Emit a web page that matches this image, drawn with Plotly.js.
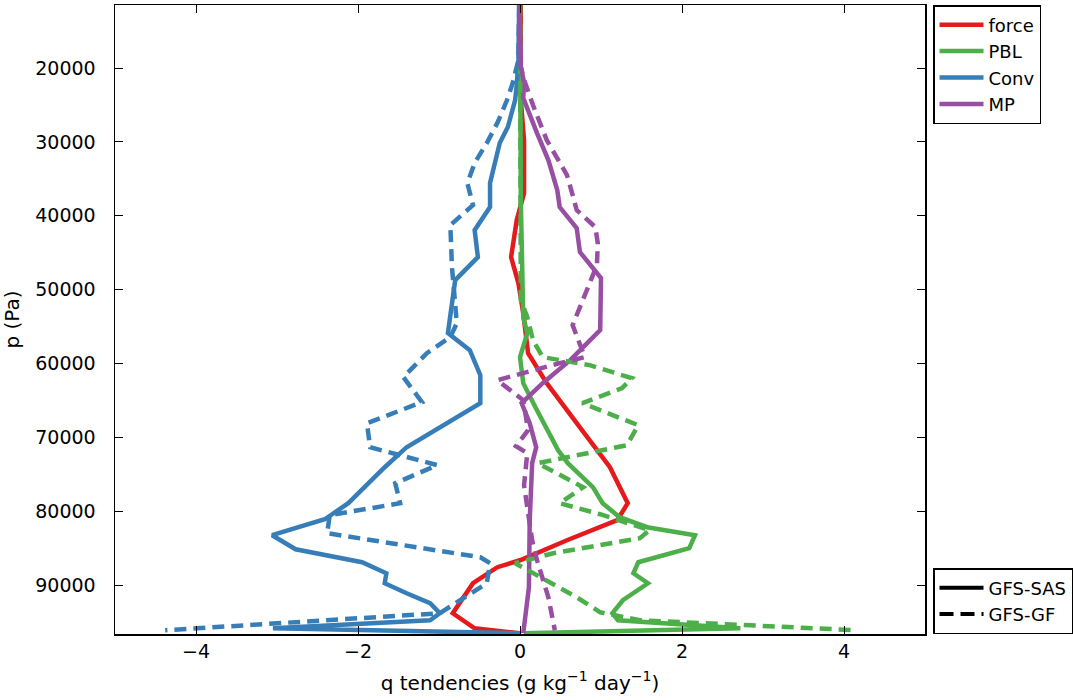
<!DOCTYPE html>
<html>
<head>
<meta charset="utf-8">
<script src="https://cdn.plot.ly/plotly-3.0.1.min.js"></script>
<style>html,body{margin:0;padding:0;background:#fff;}#chart{width:1073px;height:700px;}</style>
</head>
<body>
<div id="chart"></div>
<script>
// Pressure levels (Pa) and q tendencies (g kg^-1 day^-1)
const forceSAS_p = [11470,24330,29750,36930,40580,45590,49110,53170,58590,62650,68070,74030,78900,81200,83910,86620,87560,89730,93790,95820,96500];
const forceSAS_x = [0.01,0.01,0.05,0.05,-0.04,-0.11,-0.02,0.04,0.10,0.33,0.70,1.11,1.33,1.20,0.58,0.00,-0.28,-0.58,-0.83,-0.56,0.00];

const pblSAS_p = [11470,37870,53710,55880,59130,62650,65900,71720,73480,76730,78900,80790,82150,83230,84990,86890,88380,89730,92030,93790,94740,95820,96500];
const pblSAS_x = [0.00,0.01,0.04,0.09,0.00,0.04,0.19,0.47,0.59,0.90,1.02,1.23,1.57,2.16,2.09,1.46,1.40,1.58,1.27,1.14,1.21,2.72,0.05];

const convSAS_p = [11470,18900,22300,24330,27990,30150,35570,38820,41940,45590,48700,52360,55880,58180,61570,65360,68610,71320,74030,78900,81070,83230,85130,86890,88380,89730,91090,92440,93790,94740,95820,96500];
const convSAS_x = [-0.01,-0.02,-0.04,-0.06,-0.15,-0.25,-0.37,-0.37,-0.56,-0.52,-0.80,-0.84,-0.89,-0.62,-0.49,-0.49,-0.99,-1.40,-1.67,-2.12,-2.41,-3.06,-2.77,-1.95,-1.65,-1.67,-1.40,-1.11,-0.99,-1.11,-3.05,0.00];

const mpSAS_p = [11470,19860,21900,24060,28800,32460,36520,38820,41660,44910,48430,55470,59540,62650,65360,68070,71320,73480,81200,90270,94740,96500];
const mpSAS_x = [-0.01,0.01,0.05,0.04,0.21,0.35,0.46,0.49,0.70,0.74,1.00,0.99,0.62,0.28,0.02,0.12,0.20,0.15,0.12,0.11,0.06,0.04];

const pblGF_p = [11470,51410,53710,56830,59130,60210,61970,63330,65360,66580,68340,71050,72130,73480,76730,78900,80390,82550,83640,85670,87020,89320,91630,93660,94740,96090];
const pblGF_x = [0.00,0.01,0.09,0.16,0.28,0.86,1.38,1.26,0.77,1.05,1.46,1.32,0.86,0.22,0.78,0.49,0.99,1.60,1.48,0.41,-0.06,0.33,0.70,0.99,1.48,4.16];

const convGF_p = [11470,18920,22030,24330,27450,30160,32860,35570,38550,41260,46950,54530,56420,58590,61840,65220,68070,71320,73750,76190,78900,80520,82960,86210,87020,89730,93790,96090];
const convGF_x = [-0.01,-0.02,-0.09,-0.16,-0.28,-0.41,-0.56,-0.65,-0.58,-0.86,-0.84,-0.78,-0.86,-1.15,-1.44,-1.21,-1.89,-1.85,-1.02,-1.54,-1.48,-2.35,-2.38,-0.49,-0.37,-0.41,-0.99,-4.38];

const mpGF_p = [11470,19860,21900,25010,29750,34490,37200,39230,41530,43700,46680,50060,54800,59130,59940,62250,64950,69020,71190,72130,76460,83910,86620,91630,96090];
const mpGF_x = [-0.01,0.01,0.06,0.16,0.33,0.58,0.65,0.70,0.93,0.96,0.95,0.83,0.65,0.80,0.49,-0.28,0.04,0.10,-0.05,0.09,0.05,0.15,0.21,0.35,0.43];

const names = ['force','PBL','Conv','MP'];
const colors = ['#e41a1c','#4daf4a','#377eb8','#984ea3'];
const xTicks = [-4,-2,0,2,4];
const yTicks = [20000,30000,40000,50000,60000,70000,80000,90000];

const sas = [[forceSAS_x,forceSAS_p],[pblSAS_x,pblSAS_p],[convSAS_x,convSAS_p],[mpSAS_x,mpSAS_p]];
const gf = [null,[pblGF_x,pblGF_p],[convGF_x,convGF_p],[mpGF_x,mpGF_p]];

const traces = [];
sas.forEach((s,i)=>{
  traces.push({x:s[0],y:s[1],type:'scatter',mode:'lines',name:names[i],legend:'legend',
    line:{color:colors[i],width:4.5},showlegend:true});
});
gf.forEach((s,i)=>{
  if(!s) return;
  traces.push({x:s[0],y:s[1],type:'scatter',mode:'lines',name:names[i]+' GF',legend:'legend',
    line:{color:colors[i],width:4.5,dash:'12px,7px'},showlegend:false});
});
// style legend entries
traces.push({x:[null],y:[null],type:'scatter',mode:'lines',name:'GFS-SAS',legend:'legend2',line:{color:'#000',width:4}});
traces.push({x:[null],y:[null],type:'scatter',mode:'lines',name:'GFS-GF',legend:'legend2',line:{color:'#000',width:4,dash:'14px,7px'}});

const tickFont = {family:'DejaVu Sans, sans-serif',size:19,color:'#000'};
const titleFont = {family:'DejaVu Sans, sans-serif',size:20,color:'#000'};
const legFont = {family:'DejaVu Sans, sans-serif',size:18,color:'#000'};
const layout = {
  width:1073,height:700,
  margin:{l:115,r:148,t:5,b:66,autoexpand:false},
  paper_bgcolor:'#fff',plot_bgcolor:'#fff',
  font:tickFont,
  showlegend:true,
  xaxis:{range:[-5,5],tickvals:xTicks,ticks:'inside',ticklen:8,tickwidth:1,tickcolor:'#000',
    showline:true,linecolor:'#000',linewidth:1.5,mirror:'ticks',showgrid:false,zeroline:false,
    tickfont:tickFont,ticklabelstandoff:0,automargin:false,
    title:{text:'q tendencies (g kg<sup>−1</sup> day<sup>−1</sup>)',font:titleFont,standoff:14}},
  yaxis:{range:[96600,11470],tickvals:yTicks,tickformat:'d',ticks:'inside',ticklen:8,tickwidth:1,tickcolor:'#000',
    showline:true,linecolor:'#000',linewidth:1.5,mirror:'ticks',showgrid:false,zeroline:false,
    tickfont:tickFont,ticklabelstandoff:14,automargin:false,
    title:{text:'p (Pa)',font:titleFont,standoff:12}},
  legend:{x:1.0099,xanchor:'left',y:1,yanchor:'top',bordercolor:'#000',borderwidth:1.5,bgcolor:'#fff',
    font:legFont,itemwidth:44,tracegroupgap:0},
  legend2:{x:1.0099,xanchor:'left',y:0,yanchor:'bottom',bordercolor:'#000',borderwidth:1.5,bgcolor:'#fff',
    font:legFont,itemwidth:44}
};
Plotly.newPlot('chart',traces,layout,{displayModeBar:false,staticPlot:true});
</script>
</body>
</html>
